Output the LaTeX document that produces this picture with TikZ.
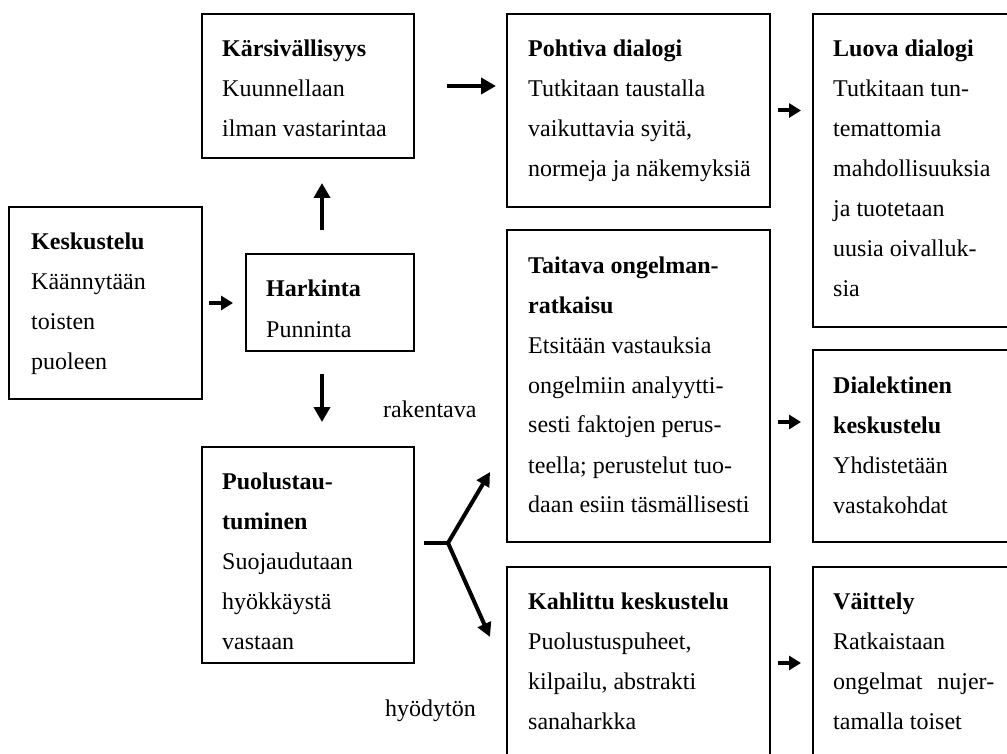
\documentclass[tikz,border=0pt]{standalone}
\usepackage{fontspec}
\setmainfont{Liberation Serif}
\usetikzlibrary{arrows.meta}
% a block of text lines whose baseline is that of its first line
\newcommand\stack[1]{\vtop{#1}}
\newcommand\lne[1]{\hbox{#1}}

\begin{document}
\begin{tikzpicture}[x=1pt,y=-1pt,
  panel/.style={draw, line width=1.8pt, rectangle, inner sep=0pt, outer sep=0pt, anchor=north west},
  txt/.style={inner sep=0pt, anchor=base west, font=\fontsize{24pt}{40pt}\selectfont},
  bigarrow/.style={line width=4pt, -{Triangle[length=15pt,width=16pt]}},
  smallarrow/.style={line width=4pt, -{Triangle[length=12pt,width=14pt]}},
  forkarrow/.style={line width=4pt, -{Triangle[length=14pt,width=14pt]}},
]
\useasboundingbox (0,0) rectangle (1007,754);
\clip (0,0) rectangle (1007,754);

% boxes
\node[panel, minimum width=193pt, minimum height=192pt] (kesk) at (9,207) {};
\node[panel, minimum width=168pt, minimum height=97pt]  (hark) at (246,254) {};
\node[panel, minimum width=212pt, minimum height=144pt] (kars) at (202,14) {};
\node[panel, minimum width=212pt, minimum height=216pt] (puol) at (202,447) {};
\node[panel, minimum width=263pt, minimum height=193pt] (poht) at (507,14) {};
\node[panel, minimum width=263pt, minimum height=312pt] (tait) at (507,230) {};
\node[panel, minimum width=263pt, minimum height=192pt] (kahl) at (507,567) {};
\node[panel, minimum width=263pt, minimum height=313pt] (luova) at (813,14) {};
\node[panel, minimum width=263pt, minimum height=192pt] (dial) at (813,350) {};
\node[panel, minimum width=263pt, minimum height=192pt] (vait) at (813,567) {};

% box texts
\node[txt] (kesk-t) at ([shift={(22,43)}]kesk.north west)
  {\stack{\lne{\textbf{Keskustelu}}\lne{Käännytään}\lne{toisten}\lne{puoleen}}};
\node[txt] (hark-t) at ([shift={(20,43)}]hark.north west)
  {\stack{\lne{\textbf{Harkinta}}\lne{Punninta}}};
\node[txt] (kars-t) at ([shift={(20,43)}]kars.north west)
  {\stack{\lne{\textbf{Kärsivällisyys}}\lne{Kuunnellaan}\lne{ilman vastarintaa}}};
\node[txt] (puol-t) at ([shift={(20,42)}]puol.north west)
  {\stack{\lne{\textbf{Puolustau-}}\lne{\textbf{tuminen}}\lne{Suojaudutaan}\lne{hyökkäystä}\lne{vastaan}}};
\node[txt] (poht-t) at ([shift={(21,43)}]poht.north west)
  {\stack{\lne{\textbf{Pohtiva dialogi}}\lne{Tutkitaan taustalla}\lne{vaikuttavia syitä,}\lne{normeja ja näkemyksiä}}};
\node[txt] (tait-t) at ([shift={(21,43)}]tait.north west)
  {\stack{\lne{\textbf{Taitava ongelman-}}\lne{\textbf{ratkaisu}}\lne{Etsitään vastauksia}\lne{ongelmiin analyytti-}\lne{sesti faktojen perus-}\lne{teella; perustelut tuo-}\lne{daan esiin täsmällisesti}}};
\node[txt] (kahl-t) at ([shift={(21,42)}]kahl.north west)
  {\stack{\lne{\textbf{Kahlittu keskustelu}}\lne{Puolustuspuheet,}\lne{kilpailu, abstrakti}\lne{sanaharkka}}};
\node[txt] (luova-t) at ([shift={(20,43)}]luova.north west)
  {\stack{\lne{\textbf{Luova dialogi}}\lne{Tutkitaan tun-}\lne{temattomia}\lne{mahdollisuuksia}\lne{ja tuotetaan}\lne{uusia oivalluk-}\lne{sia}}};
\node[txt] (dial-t) at ([shift={(20,43)}]dial.north west)
  {\stack{\lne{\textbf{Dialektinen}}\lne{\textbf{keskustelu}}\lne{Yhdistetään}\lne{vastakohdat}}};
\node[txt] (vait-t) at ([shift={(20,42)}]vait.north west)
  {\stack{\lne{\textbf{Väittely}}\lne{Ratkaistaan}\hbox to 161pt{ongelmat\hfill nujer-}\lne{tamalla toiset}}};

% free labels
\node[txt] (rak) at (383,417) {rakentava};
\node[txt] (hyo) at (385,716) {hyödytön};

% arrows
\draw[smallarrow] ([xshift=7pt]kesk.east) -- ([xshift=-13pt]kesk.east -| hark.west);
\draw[bigarrow] ([shift={(-8,-24)}]hark.north) -- ([shift={(14,25)}]kars.south);
\draw[bigarrow] ([shift={(-8,23)}]hark.south) -- ([shift={(14,-25)}]puol.north);
\draw[bigarrow] ([xshift=33pt]kars.east) -- ([xshift=-11pt]kars.east -| poht.west);
\draw[smallarrow] ([xshift=8pt]poht.east) -- ([xshift=-12pt]poht.east -| luova.west);
\draw[smallarrow] ([shift={(8,36)}]tait.east) -- ([shift={(-12,-24)}]dial.west);
\draw[smallarrow] ([xshift=8pt]kahl.east) -- ([xshift=-12pt]kahl.east -| vait.west);

% fork from the defensive box
\coordinate (fork) at (448,543);
\draw[line width=4pt] ([shift={(10,-12)}]puol.east) -- (fork);
\draw[forkarrow] (fork) -- ([shift={(-17,86)}]tait.west);
\draw[forkarrow] (fork) -- ([shift={(-17,-26)}]kahl.west);
\end{tikzpicture}
\end{document}
